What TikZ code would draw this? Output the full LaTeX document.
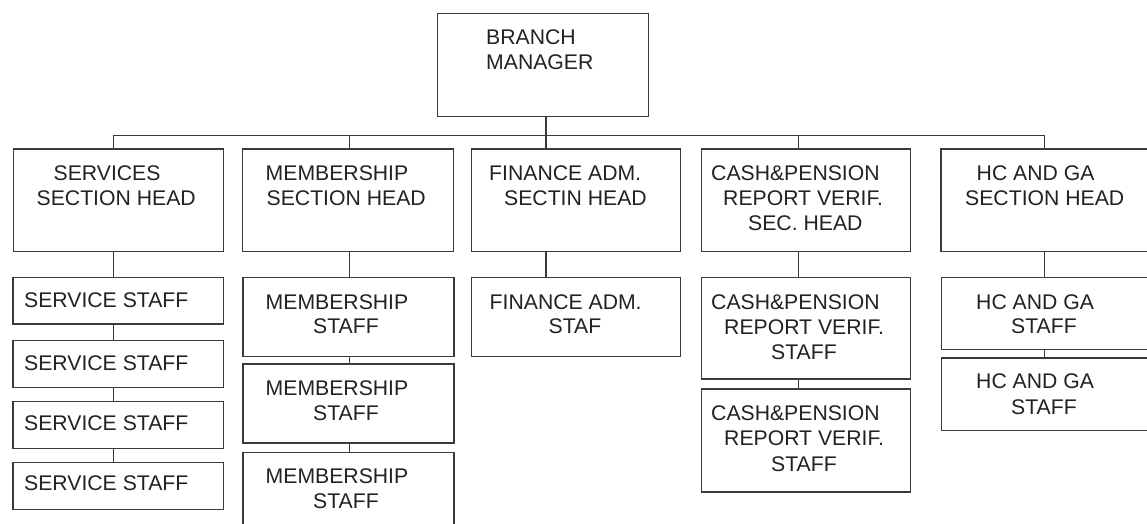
\documentclass[tikz,border=0pt]{standalone}
\usepackage{fontspec}
\setmainfont{Liberation Sans}
\definecolor{lncol}{HTML}{3A3A3A}
\definecolor{txcol}{HTML}{222222}
\newcommand\mkbox[5]{\node[boxst, minimum width={(#4-#2)*1pt}, minimum height={(#5-#3)*1pt}, anchor=north west] (#1) at (#2,-#3) {};}
\newcommand\lineat[4]{\node[txt] (#1) at (#2,-#3) {#4};}
\begin{document}
\begin{tikzpicture}[x=1pt,y=1pt,
  boxst/.style={draw=lncol, line width=1.4pt, rectangle, inner sep=0pt, fill=white},
  conn/.style={draw=lncol, line width=1.4pt},
  txt/.style={anchor=base west, inner sep=0pt, text=txcol, font=\fontsize{21.2}{25}\selectfont}]
\useasboundingbox (0,0) rectangle (1147,-524);
\clip (0,0) rectangle (1147,-524);
\fill[white] (0,0) rectangle (1147,-524);
% bus coordinates
\coordinate (b1) at (113.7,-135.3);
\coordinate (b2) at (349.6,-135.3);
\coordinate (b3) at (546,-135.3);
\coordinate (b4) at (798.5,-135.3);
\coordinate (b5) at (1044.3,-135.3);
% boxes
\mkbox{bm}{437}{12.7}{647.6}{116}
\mkbox{sh}{12.6}{148.3}{223}{251}
\mkbox{mh}{242}{148.3}{452.7}{251}
\mkbox{fh}{470.7}{148.3}{679.8}{251}
\mkbox{ch}{700.7}{148.3}{909.7}{251}
\mkbox{hh}{940.3}{148.3}{1170}{251}
\mkbox{ss1}{12.3}{276.7}{222.7}{323.3}
\mkbox{ss2}{12.3}{340}{222.7}{387}
\mkbox{ss3}{12.3}{401}{222.7}{447.7}
\mkbox{ss4}{12.3}{461.7}{222.7}{508.7}
\mkbox{ms1}{242.3}{276.7}{453.3}{355.7}
\mkbox{ms2}{242.3}{363.3}{453.3}{442.3}
\mkbox{ms3}{242.3}{451.7}{453.3}{545}
\mkbox{fs}{471}{276.7}{679.5}{356}
\mkbox{cs1}{701}{276.7}{909.6}{378.3}
\mkbox{cs2}{701}{388.3}{909.6}{491.3}
\mkbox{hs1}{941}{276.7}{1170}{348.7}
\mkbox{hs2}{941}{357.3}{1170}{430}
% connectors
\draw[conn] (b3 |- bm.south) -- (b3);
\draw[conn] (b1) -- (b5);
\draw[conn] (b1) -- (b1 |- sh.north);
\draw[conn] (b2) -- (b2 |- mh.north);
\draw[conn] (b3) -- (b3 |- fh.north);
\draw[conn] (b4) -- (b4 |- ch.north);
\draw[conn] (b5) -- (b5 |- hh.north);
\draw[conn] (b1 |- sh.south) -- (b1 |- ss1.north);
\draw[conn] (b1 |- ss1.south) -- (b1 |- ss2.north);
\draw[conn] (b1 |- ss2.south) -- (b1 |- ss3.north);
\draw[conn] (b1 |- ss3.south) -- (b1 |- ss4.north);
\draw[conn] (b2 |- mh.south) -- (b2 |- ms1.north);
\draw[conn] (b2 |- ms1.south) -- (b2 |- ms2.north);
\draw[conn] (b2 |- ms2.south) -- (b2 |- ms3.north);
\draw[conn] (b3 |- fh.south) -- (b3 |- fs.north);
\draw[conn] (b4 |- ch.south) -- (b4 |- cs1.north);
\draw[conn] (b4 |- cs1.south) -- (b4 |- cs2.north);
\draw[conn] (b5 |- hh.south) -- (b5 |- hs1.north);
\draw[conn] (b5 |- hs1.south) -- (b5 |- hs2.north);
% texts
\lineat{bma}{486}{45}{BRANCH}
\lineat{bmb}{486}{70}{MANAGER}
\lineat{sha}{53.5}{180}{SERVICES}
\lineat{shb}{36.5}{205}{SECTION HEAD}
\lineat{mha}{265.5}{180}{MEMBERSHIP}
\lineat{mhb}{266.5}{205}{SECTION HEAD}
\lineat{fha}{489}{180}{FINANCE ADM.}
\lineat{fhb}{504}{205}{SECTIN HEAD}
\lineat{cha}{711}{180}{CASH\&PENSION}
\lineat{chb}{723}{205}{REPORT VERIF.}
\lineat{chc}{748}{230.5}{SEC. HEAD}
\lineat{hha}{976.5}{180}{HC AND GA}
\lineat{hhb}{965}{205}{SECTION HEAD}
\lineat{ss1a}{24}{307.3}{SERVICE STAFF}
\lineat{ss2a}{24}{370}{SERVICE STAFF}
\lineat{ss3a}{24}{430.7}{SERVICE STAFF}
\lineat{ss4a}{24}{490.7}{SERVICE STAFF}
\lineat{ms1a}{265.5}{309}{MEMBERSHIP}
\lineat{ms1b}{313}{333.3}{STAFF}
\lineat{ms2a}{265.5}{395}{MEMBERSHIP}
\lineat{ms2b}{313}{420}{STAFF}
\lineat{ms3a}{265.5}{483.3}{MEMBERSHIP}
\lineat{ms3b}{313}{508.3}{STAFF}
\lineat{fsa}{489.5}{309}{FINANCE ADM.}
\lineat{fsb}{548.5}{333.3}{STAF}
\lineat{cs1a}{711}{309}{CASH\&PENSION}
\lineat{cs1b}{724}{334.3}{REPORT VERIF.}
\lineat{cs1c}{771}{359.3}{STAFF}
\lineat{cs2a}{711}{420}{CASH\&PENSION}
\lineat{cs2b}{724}{445}{REPORT VERIF.}
\lineat{cs2c}{771}{471.7}{STAFF}
\lineat{hs1a}{976}{309}{HC AND GA}
\lineat{hs1b}{1011}{333.3}{STAFF}
\lineat{hs2a}{976}{388.3}{HC AND GA}
\lineat{hs2b}{1011}{414}{STAFF}
\end{tikzpicture}
\end{document}
